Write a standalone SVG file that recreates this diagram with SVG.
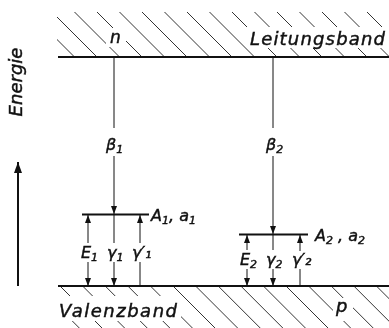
<svg xmlns="http://www.w3.org/2000/svg" width="389" height="328" viewBox="0 0 389 328">
<style>
.lbl{font-family:"DejaVu Sans","Liberation Sans",sans-serif;font-style:italic;fill:#111;stroke:#111;stroke-width:0.45}
.band{stroke:#111;stroke-width:2}
.lvl{stroke:#111;stroke-width:2}
.v{stroke:#111;stroke-width:1;fill:none}
.hatch{stroke:#333;stroke-width:1}
</style>
<defs>
<marker id="ah" viewBox="0 0 8 6" refX="8" refY="3" markerWidth="8" markerHeight="6" markerUnits="userSpaceOnUse" orient="auto">
<path d="M0,0 L8,3 L0,6 Z" fill="#111"/>
</marker>
<marker id="ahBig" viewBox="0 0 11 8" refX="11" refY="4" markerWidth="11" markerHeight="8" markerUnits="userSpaceOnUse" orient="auto">
<path d="M0,0 L11,4 L0,8 Z" fill="#111"/>
</marker>
<clipPath id="topClip"><rect x="57" y="12" width="332" height="45"/></clipPath>
<clipPath id="botClip"><rect x="58" y="286" width="331" height="42"/></clipPath>
<mask id="txtMask" maskUnits="userSpaceOnUse" x="0" y="0" width="389" height="328">
<rect x="0" y="0" width="389" height="328" fill="#fff"/>
<rect x="106" y="28" width="20" height="19" fill="#000"/>
<rect x="246" y="27" width="143" height="21" fill="#000"/>
<rect x="56" y="296" width="125" height="25" fill="#000"/>
<rect x="333" y="298" width="20" height="23" fill="#000"/>
</mask>
</defs>

<g id="hatching" mask="url(#txtMask)">
<g clip-path="url(#topClip)" class="hatch">
<line x1="7" y1="12" x2="52" y2="57"/>
<line x1="29.5" y1="12" x2="74.5" y2="57"/>
<line x1="52" y1="12" x2="97" y2="57"/>
<line x1="74.5" y1="12" x2="119.5" y2="57"/>
<line x1="97" y1="12" x2="142" y2="57"/>
<line x1="119.5" y1="12" x2="164.5" y2="57"/>
<line x1="142" y1="12" x2="187" y2="57"/>
<line x1="164.5" y1="12" x2="209.5" y2="57"/>
<line x1="187" y1="12" x2="232" y2="57"/>
<line x1="209.5" y1="12" x2="254.5" y2="57"/>
<line x1="232" y1="12" x2="277" y2="57"/>
<line x1="254.5" y1="12" x2="299.5" y2="57"/>
<line x1="277" y1="12" x2="322" y2="57"/>
<line x1="299.5" y1="12" x2="344.5" y2="57"/>
<line x1="322" y1="12" x2="367" y2="57"/>
<line x1="344.5" y1="12" x2="389.5" y2="57"/>
<line x1="367" y1="12" x2="412" y2="57"/>
</g>
<g clip-path="url(#botClip)" class="hatch">
<line x1="14.6" y1="286" x2="56.6" y2="328"/>
<line x1="37.3" y1="286" x2="79.3" y2="328"/>
<line x1="60" y1="286" x2="102" y2="328"/>
<line x1="82.6" y1="286" x2="124.6" y2="328"/>
<line x1="105.2" y1="286" x2="147.2" y2="328"/>
<line x1="127.8" y1="286" x2="169.8" y2="328"/>
<line x1="150.4" y1="286" x2="192.4" y2="328"/>
<line x1="173" y1="286" x2="215" y2="328"/>
<line x1="195.6" y1="286" x2="237.6" y2="328"/>
<line x1="218.2" y1="286" x2="260.2" y2="328"/>
<line x1="240.8" y1="286" x2="282.8" y2="328"/>
<line x1="263.4" y1="286" x2="305.4" y2="328"/>
<line x1="286" y1="286" x2="328" y2="328"/>
<line x1="308.6" y1="286" x2="350.6" y2="328"/>
<line x1="331.2" y1="286" x2="373.2" y2="328"/>
<line x1="353.8" y1="286" x2="395.8" y2="328"/>
<line x1="376.4" y1="286" x2="418.4" y2="328"/>
</g>
</g>

<g id="leitungsband">
<line class="band" x1="58" y1="57" x2="389" y2="57"/>
<text class="lbl" x="250" y="45" font-size="18" textLength="135" lengthAdjust="spacing">Leitungsband</text>
<text class="lbl" x="110" y="43" font-size="17">n</text>
</g>

<g id="valenzband">
<line class="band" x1="58" y1="286" x2="389" y2="286"/>
<text class="lbl" x="59" y="317" font-size="18" textLength="118" lengthAdjust="spacing">Valenzband</text>
<text class="lbl" x="336" y="312" font-size="18">p</text>
</g>

<g id="energie">
<text class="lbl" font-size="18" text-anchor="middle" transform="translate(22,82) rotate(-90)">Energie</text>
<line x1="18" y1="286" x2="18" y2="162" stroke="#111" stroke-width="2" marker-end="url(#ahBig)"/>
</g>

<g id="level1">
<line class="lvl" x1="82" y1="214.5" x2="149" y2="214.5"/>
<text class="lbl" x="151" y="221" font-size="16">A<tspan font-size="11" dy="3">1</tspan><tspan dy="-3">, a</tspan><tspan font-size="11" dy="3">1</tspan></text>
</g>

<g id="level2">
<line class="lvl" x1="239" y1="234.5" x2="308" y2="234.5"/>
<text class="lbl" x="315" y="241" font-size="16">A<tspan font-size="11" dy="3">2</tspan><tspan dy="-3"> , a</tspan><tspan font-size="11" dy="3">2</tspan></text>
</g>

<g id="labels">
<text class="lbl" x="106" y="150" font-size="16">β<tspan font-size="11" dy="3">1</tspan></text>
<text class="lbl" x="266" y="150" font-size="16">β<tspan font-size="11" dy="3">2</tspan></text>
<text class="lbl" x="81" y="258" font-size="16">E<tspan font-size="11" dy="3">1</tspan></text>
<text class="lbl" x="107" y="258" font-size="16">γ<tspan font-size="11" dy="3">1</tspan></text>
<text class="lbl" x="132" y="258" font-size="16">γ′₁</text>
<text class="lbl" x="240" y="265" font-size="16">E<tspan font-size="11" dy="3">2</tspan></text>
<text class="lbl" x="266" y="265" font-size="16">γ<tspan font-size="11" dy="3">2</tspan></text>
<text class="lbl" x="292" y="265" font-size="16">γ′₂</text>
</g>

<g id="connectors" class="v">
<line x1="114" y1="57" x2="114" y2="128"/>
<line x1="114" y1="156" x2="114" y2="214" marker-end="url(#ah)"/>
<line x1="114" y1="215" x2="114" y2="243"/>
<line x1="114" y1="262" x2="114" y2="286" marker-end="url(#ah)"/>
<line x1="88" y1="243" x2="88" y2="215" marker-end="url(#ah)"/>
<line x1="88" y1="262" x2="88" y2="286" marker-end="url(#ah)"/>
<line x1="140" y1="286" x2="140" y2="262"/>
<line x1="140" y1="243" x2="140" y2="215" marker-end="url(#ah)"/>
<line x1="273" y1="57" x2="273" y2="128"/>
<line x1="273" y1="156" x2="273" y2="234" marker-end="url(#ah)"/>
<line x1="273" y1="235" x2="273" y2="250"/>
<line x1="273" y1="269" x2="273" y2="286" marker-end="url(#ah)"/>
<line x1="247" y1="250" x2="247" y2="235" marker-end="url(#ah)"/>
<line x1="247" y1="269" x2="247" y2="286" marker-end="url(#ah)"/>
<line x1="300" y1="286" x2="300" y2="269"/>
<line x1="300" y1="251" x2="300" y2="235" marker-end="url(#ah)"/>
</g>
</svg>
